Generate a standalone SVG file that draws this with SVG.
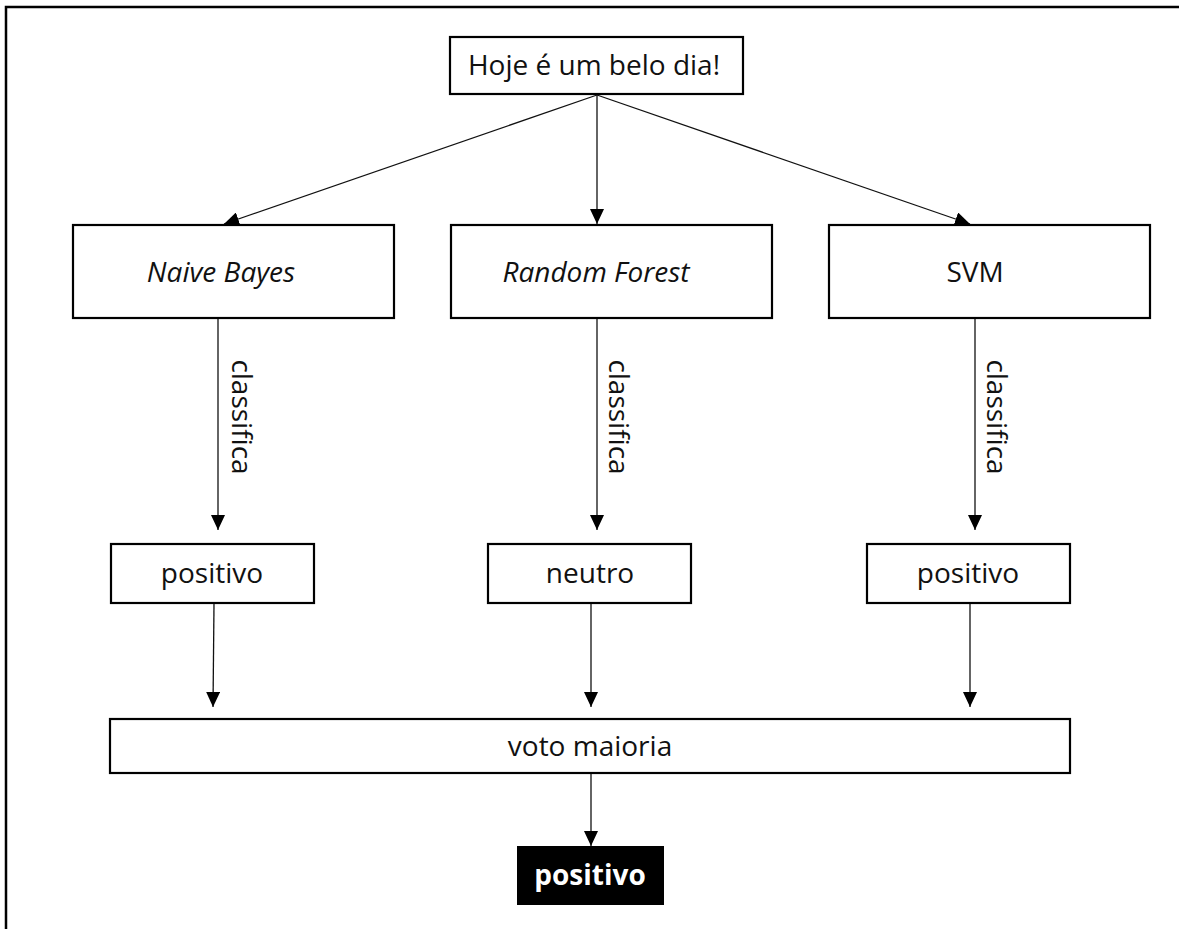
<svg xmlns="http://www.w3.org/2000/svg" width="1179" height="929" viewBox="0 0 1179 929">
<style>
.box{fill:#fff;stroke:#000;stroke-width:2.2}
.lbl{font-family:"Open Sans","Noto Sans",sans-serif;font-size:28px;fill:#111;text-anchor:middle}
.it{font-style:italic}
.conn{stroke:#111;stroke-width:1.3;fill:none;marker-end:url(#ah)}
</style>
<defs>
<marker id="ah" markerUnits="userSpaceOnUse" markerWidth="16" markerHeight="14" refX="15" refY="7" orient="auto">
<path d="M0,0 L15,7 L0,14 Z" fill="#000"/>
</marker>
</defs>
<rect width="1179" height="929" fill="#fff"/>
<path d="M6,929 V7 H1179" fill="none" stroke="#000" stroke-width="2.5"/>
<g id="connectors">
<line class="conn" x1="597" y1="95" x2="224" y2="224"/>
<line class="conn" x1="597" y1="95" x2="597" y2="224"/>
<line class="conn" x1="597" y1="95" x2="970" y2="224"/>
<line class="conn" x1="218" y1="319" x2="218" y2="530"/>
<line class="conn" x1="597" y1="319" x2="597" y2="530"/>
<line class="conn" x1="975" y1="319" x2="975" y2="530"/>
<line class="conn" x1="214" y1="604" x2="213" y2="707"/>
<line class="conn" x1="591" y1="604" x2="591" y2="707"/>
<line class="conn" x1="970" y1="604" x2="970" y2="707"/>
<line class="conn" x1="591" y1="774" x2="591" y2="846"/>
<text class="lbl" transform="translate(232,417) rotate(90)">classifica</text>
<text class="lbl" transform="translate(609,417) rotate(90)">classifica</text>
<text class="lbl" transform="translate(987,417) rotate(90)">classifica</text>
</g>
<g id="n-frase"><rect class="box" x="450" y="37" width="293" height="57"/><text class="lbl" x="594" y="75">Hoje é um belo dia!</text></g>
<g id="n-nb"><rect class="box" x="73" y="225" width="321" height="93"/><text class="lbl it" x="221" y="282">Naive Bayes</text></g>
<g id="n-rf"><rect class="box" x="451" y="225" width="321" height="93"/><text class="lbl it" x="596" y="282">Random Forest</text></g>
<g id="n-svm"><rect class="box" x="829" y="225" width="321" height="93"/><text class="lbl" x="975" y="282">SVM</text></g>
<g id="n-pos1"><rect class="box" x="111" y="544" width="203" height="59"/><text class="lbl" x="212" y="583">positivo</text></g>
<g id="n-neu"><rect class="box" x="488" y="544" width="203" height="59"/><text class="lbl" x="590" y="583">neutro</text></g>
<g id="n-pos2"><rect class="box" x="867" y="544" width="203" height="59"/><text class="lbl" x="968" y="583">positivo</text></g>
<g id="n-voto"><rect class="box" x="110" y="719" width="960" height="54"/><text class="lbl" x="590" y="756">voto maioria</text></g>
<g id="n-final"><rect x="517" y="846" width="147" height="59" fill="#000"/><text class="lbl" x="590" y="885" style="fill:#fff;font-weight:bold">positivo</text></g>
</svg>
